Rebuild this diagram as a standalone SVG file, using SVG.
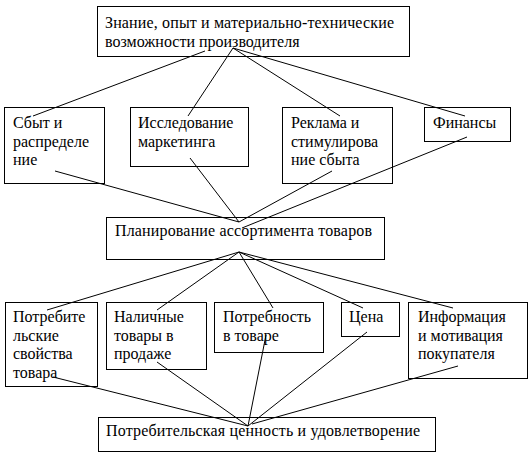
<svg xmlns="http://www.w3.org/2000/svg" width="529" height="453" viewBox="0 0 529 453" font-family="Liberation Serif, Times New Roman, DejaVu Serif, serif" font-size="16">
<style>
rect.box{fill:#fff;stroke:#000;stroke-width:1}
#connectors line{stroke:#000;stroke-width:1}
</style>
<rect width="529" height="453" fill="#fff"/>
<g id="n-top"><rect class="box" x="97.5" y="6.5" width="312" height="50"/>
<text x="105" y="28" textLength="289" lengthAdjust="spacing">Знание, опыт и материально-технические</text>
<text x="105" y="47">возможности производителя</text></g>
<g id="n-sbyt"><rect class="box" x="4.5" y="107.5" width="100" height="76"/>
<text x="13" y="128">Сбыт и</text><text x="13" y="146.5">распределе</text><text x="13" y="165">ние</text></g>
<g id="n-issl"><rect class="box" x="130.5" y="107.5" width="118" height="59"/>
<text x="138" y="128">Исследование</text><text x="138" y="146.5">маркетинга</text></g>
<g id="n-reklama"><rect class="box" x="282.5" y="107.5" width="110" height="76"/>
<text x="291" y="128">Реклама и</text><text x="291" y="146.5">стимулирова</text><text x="291" y="165">ние сбыта</text></g>
<g id="n-finansy"><rect class="box" x="424.5" y="107.5" width="86" height="34"/>
<text x="433" y="128">Финансы</text></g>
<g id="n-plan"><rect class="box" x="106.5" y="217.5" width="278" height="42"/>
<text x="115" y="236" textLength="257" lengthAdjust="spacing">Планирование ассортимента товаров</text></g>
<g id="n-svoistva"><rect class="box" x="5.5" y="302.5" width="92" height="84"/>
<text x="13" y="322">Потребите</text><text x="13" y="340.5">льские</text><text x="13" y="359">свойства</text><text x="13" y="377.5">товара</text></g>
<g id="n-nalichnye"><rect class="box" x="106.5" y="302.5" width="100" height="67"/>
<text x="114" y="322">Наличные</text><text x="114" y="340.5">товары в</text><text x="114" y="359">продаже</text></g>
<g id="n-potrebnost"><rect class="box" x="214.5" y="302.5" width="109" height="50"/>
<text x="223" y="322">Потребность</text><text x="223" y="340.5">в товаре</text></g>
<g id="n-cena"><rect class="box" x="341.5" y="302.5" width="58" height="34"/>
<text x="349" y="322">Цена</text></g>
<g id="n-info"><rect class="box" x="408.5" y="302.5" width="119" height="76"/>
<text x="418" y="322">Информация</text><text x="418" y="340.5">и мотивация</text><text x="418" y="359">покупателя</text></g>
<g id="n-bottom"><rect class="box" x="98.5" y="417.5" width="337" height="34"/>
<text x="106" y="436" textLength="314" lengthAdjust="spacing">Потребительская ценность и удовлетворение</text></g>
<g id="connectors">
<line x1="205" y1="51" x2="33" y2="116"/>
<line x1="233" y1="48" x2="188" y2="116"/>
<line x1="233" y1="48" x2="340" y2="116"/>
<line x1="233" y1="48" x2="465" y2="116"/>
<line x1="55" y1="171" x2="239" y2="222"/>
<line x1="190" y1="158" x2="239" y2="222"/>
<line x1="332" y1="171" x2="239" y2="222"/>
<line x1="467" y1="137" x2="242" y2="228"/>
<line x1="239" y1="252" x2="47" y2="310"/>
<line x1="239" y1="252" x2="157" y2="310"/>
<line x1="239" y1="252" x2="273" y2="308"/>
<line x1="239" y1="252" x2="363" y2="308"/>
<line x1="239" y1="252" x2="453" y2="308"/>
<line x1="53" y1="377" x2="248" y2="426"/>
<line x1="157" y1="362" x2="248" y2="426"/>
<line x1="266" y1="335" x2="248" y2="426"/>
<line x1="367" y1="332" x2="248" y2="426"/>
<line x1="458" y1="366" x2="252" y2="424"/>
</g>
</svg>
